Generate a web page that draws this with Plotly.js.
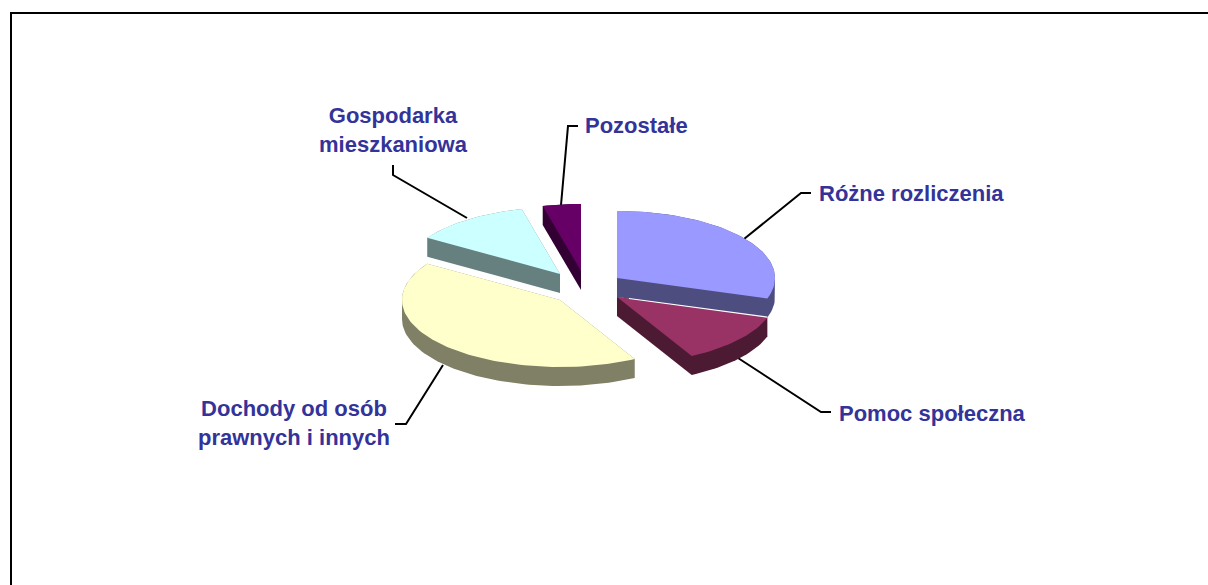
<!DOCTYPE html>
<html>
<head>
<meta charset="utf-8">
<script src="https://cdn.plot.ly/plotly-3.0.1.min.js"></script>
<style>html,body{margin:0;padding:0;background:#fff;overflow:hidden}#chart{width:1208px;height:585px}</style>
</head>
<body>
<div id="chart"></div>
<script>
// Data (share of the total, %), clockwise from 12 o'clock
const categories = ["Różne rozliczenia", "Pomoc społeczna", "Dochody od osób prawnych i innych", "Gospodarka mieszkaniowa", "Pozostałe"];
const values = [30, 12.2, 42, 12, 3.9];
const labels = ["Różne rozliczenia", "Pomoc społeczna", "Dochody od osób<br>prawnych i innych", "Gospodarka<br>mieszkaniowa", "Pozostałe"];

// Styles
const topColors = ["#9999FF", "#993366", "#FFFFCC", "#CCFFFF", "#660066"];
const sideColors = ["#4D4D80", "#4D1A33", "#808066", "#668080", "#330033"];
const textColor = "#333399";

// Pie geometry (in page-sized axis units)
const radiusX = 158, radiusY = 67, depth = 19;
const apexX = [617, 617, 560, 560, 581];
const apexY = [278, 297, 300, 274, 271];

// Label anchors and leader lines
const labelX = [911, 932, 294, 393, 636];
const labelY = [193, 413, 423, 130, 125];
const leaderX = [[744, 801, 811], [738, 821, 831], [443, 406, 395], [467, 393, 393], [561, 568, 578]];
const leaderY = [[239, 193, 193], [358, 412, 412], [365, 424, 424], [218, 175, 165], [205, 126, 126]];

function hull(pts) {
  const p = pts.slice().sort((a, b) => a[0] - b[0] || a[1] - b[1]);
  const cross = (o, a, b) => (a[0] - o[0]) * (b[1] - o[1]) - (a[1] - o[1]) * (b[0] - o[0]);
  const lo = [], up = [];
  for (const q of p) { while (lo.length > 1 && cross(lo[lo.length - 2], lo[lo.length - 1], q) <= 0) lo.pop(); lo.push(q); }
  for (const q of p.slice().reverse()) { while (up.length > 1 && cross(up[up.length - 2], up[up.length - 1], q) <= 0) up.pop(); up.push(q); }
  return lo.slice(0, -1).concat(up.slice(0, -1));
}

const total = values.reduce((a, b) => a + b, 0);
const traces = [];
categories.forEach((c, i) => {
  traces.push({ x: leaderX[i], y: leaderY[i], mode: "lines", line: { color: "#000", width: 2 }, hoverinfo: "skip", showlegend: false });
});

let cum = 0;
const wedges = values.map((v, i) => {
  const a0 = cum / total * 2 * Math.PI;
  cum += v;
  const a1 = cum / total * 2 * Math.PI;
  const pts = [[apexX[i], apexY[i]]];
  const n = Math.max(4, Math.ceil((a1 - a0) / 0.03));
  for (let k = 0; k <= n; k++) {
    const a = a0 + (a1 - a0) * k / n;
    pts.push([apexX[i] + radiusX * Math.sin(a), apexY[i] - radiusY * Math.cos(a)]);
  }
  return pts;
});

const drawOrder = [4, 3, 2, 1, 0];
drawOrder.forEach(i => {
  const pts = wedges[i];
  const body = hull(pts.concat(pts.map(p => [p[0], p[1] + depth])));
  traces.push({
    x: body.map(p => p[0]).concat(body[0][0]), y: body.map(p => p[1]).concat(body[0][1]),
    mode: "lines", fill: "toself", fillcolor: sideColors[i], line: { width: 0, color: sideColors[i] },
    hoverinfo: "skip", showlegend: false
  });
  traces.push({
    x: pts.map(p => p[0]).concat(pts[0][0]), y: pts.map(p => p[1]).concat(pts[0][1]),
    mode: "lines", fill: "toself", fillcolor: topColors[i], line: { width: 0, color: topColors[i] },
    name: categories[i], text: categories[i], hoverinfo: "text", showlegend: false
  });
});
// Thin light seam between the first two slices
traces.push({
  x: [wedges[1][0][0] + 12, wedges[1][1][0]], y: [wedges[0][0][1] + depth + 1.5, wedges[1][1][1] - 0.5],
  mode: "lines", line: { color: "#fff", width: 1.2 }, hoverinfo: "skip", showlegend: false
});

const annotations = labels.map((t, i) => ({
  x: labelX[i], y: labelY[i], xref: "x", yref: "y", text: "<b>" + t + "</b>", showarrow: false,
  xanchor: "center", yanchor: "middle", align: "center",
  font: { family: "Liberation Sans, Arial, sans-serif", size: 22, color: textColor }
}));

const layout = {
  width: 1208, height: 585,
  margin: { l: 0, r: 0, t: 0, b: 0 },
  paper_bgcolor: "#fff", plot_bgcolor: "#fff",
  xaxis: { range: [0, 1208], visible: false, fixedrange: true },
  yaxis: { range: [585, 0], visible: false, fixedrange: true },
  shapes: [
    { type: "line", xref: "x", yref: "y", x0: 11, y0: 13, x1: 1208, y1: 13, line: { color: "#000", width: 2 } },
    { type: "line", xref: "x", yref: "y", x0: 11, y0: 12, x1: 11, y1: 585, line: { color: "#000", width: 2 } }
  ],
  annotations: annotations,
  showlegend: false
};
Plotly.newPlot("chart", traces, layout, { displayModeBar: false, staticPlot: true });
</script>
</body>
</html>
